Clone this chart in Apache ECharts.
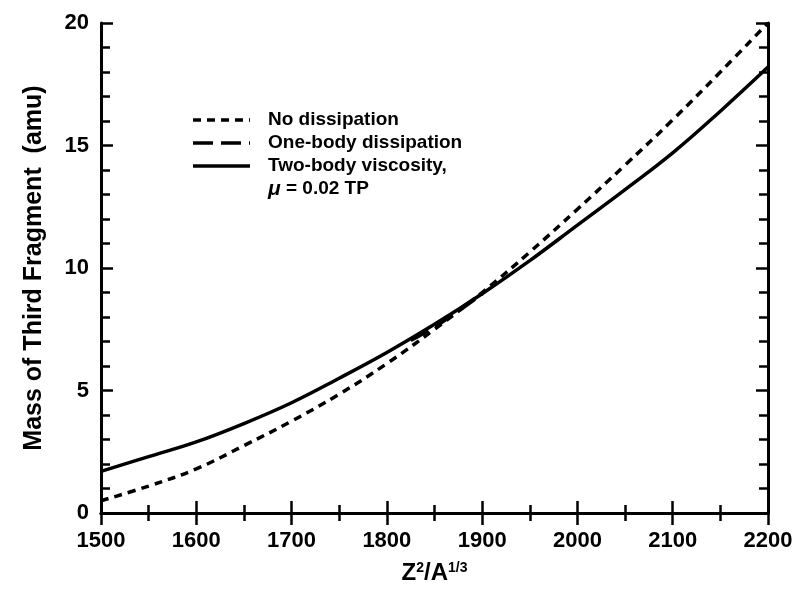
<!DOCTYPE html>
<html>
<head>
<meta charset="utf-8">
<script src="https://cdn.jsdelivr.net/npm/echarts@6/dist/echarts.min.js"></script>
<style>
  html, body { margin: 0; padding: 0; background: #fff; }
  #chart { width: 798px; height: 590px; }
</style>
</head>
<body>
<div id="chart"></div>
<script>
// Z^2/A^(1/3) values
var xValues = [1500, 1550, 1600, 1650, 1700, 1750, 1800, 1850, 1900, 1950, 2000, 2050, 2100, 2150, 2200];
// mass of third fragment (amu)
var noDissipation = [0.5, 1.1, 1.8, 2.75, 3.75, 4.85, 6.1, 7.5, 9.0, 10.65, 12.4, 14.2, 16.05, 18.0, 20.0];
var twoBody = [1.7, 2.3, 2.9, 3.65, 4.5, 5.5, 6.55, 7.7, 8.95, 10.3, 11.75, 13.2, 14.7, 16.4, 18.2];
var oneBodyX = [1825, 1850, 1875, 1900];
var oneBody = [7.05, 7.6, 8.25, 8.95];
var legendNames = ["No dissipation", "One-body dissipation", "Two-body viscosity,", "{i|\u03bc} = 0.02 TP"];

var font = "'Liberation Sans Narrow', 'Liberation Sans', Arial, sans-serif";

function pairs(xs, ys) {
  var out = [];
  for (var i = 0; i < xs.length; i++) out.push([xs[i], ys[i]]);
  return out;
}

var chart = echarts.init(document.getElementById("chart"));

var tickStyle = { color: "#000", width: 2.5 };
var dashes = [[8, 6], [20, 8], null];

// hand drawn legend (line samples + labels)
var legendGraphics = [];
for (var i = 0; i < 4; i++) {
  var y = 120 + i * 23;
  if (i < 3) {
    legendGraphics.push({
      type: "line",
      shape: { x1: 193, y1: y, x2: 250, y2: y },
      style: { stroke: "#000", lineWidth: 3.5, lineDash: dashes[i] }
    });
  }
  legendGraphics.push({
    type: "text",
    x: 268,
    y: y,
    style: {
      text: legendNames[i],
      fontFamily: font,
      fontWeight: "bold",
      fontSize: 19,
      fill: "#000",
      verticalAlign: "middle",
      rich: { i: { fontFamily: font, fontWeight: "bold", fontStyle: "italic", fontSize: 21, fill: "#000" } }
    }
  });
}

chart.setOption({
  backgroundColor: "#fff",
  animation: false,
  grid: { left: 101, right: 30, top: 23, bottom: 73 },
  graphic: legendGraphics,
  xAxis: [{
    type: "value",
    min: 1500,
    max: 2200,
    interval: 100,
    name: "{a|Z}{s|2}{a|/A}{s|1/3}",
    nameLocation: "middle",
    nameGap: 48,
    nameTextStyle: {
      rich: {
        a: { fontFamily: font, fontWeight: "bold", fontSize: 24, color: "#000" },
        s: { fontFamily: font, fontWeight: "bold", fontSize: 14, color: "#000", verticalAlign: "top", padding: [0, 0, 10, 0] }
      }
    },
    axisLine: { lineStyle: { color: "#000", width: 3 } },
    axisTick: { inside: true, length: 12, lineStyle: tickStyle },
    minorTick: { show: true, splitNumber: 2, length: 8, lineStyle: tickStyle },
    splitLine: { show: false },
    axisLabel: {
      fontFamily: font, fontWeight: "bold", fontSize: 22, color: "#000", margin: 17,
      formatter: function (v) { return String(v); }
    }
  }, {
    type: "value",
    position: "top",
    min: 1500,
    max: 2200,
    interval: 100,
    axisLine: { show: true, lineStyle: { color: "#000", width: 3 } },
    axisTick: { inside: true, length: 12, lineStyle: tickStyle },
    minorTick: { show: true, splitNumber: 2, length: 8, lineStyle: tickStyle },
    splitLine: { show: false },
    axisLabel: { show: false }
  }],
  yAxis: [{
    type: "value",
    min: 0,
    max: 20,
    interval: 5,
    name: "Mass of Third Fragment  (amu)",
    nameLocation: "middle",
    nameGap: 54,
    nameTextStyle: { fontFamily: font, fontWeight: "bold", fontSize: 25, color: "#000" },
    axisLine: { show: true, lineStyle: { color: "#000", width: 3 } },
    axisTick: { inside: true, length: 12, lineStyle: tickStyle },
    minorTick: { show: true, splitNumber: 5, length: 9, lineStyle: tickStyle },
    splitLine: { show: false },
    axisLabel: { fontFamily: font, fontWeight: "bold", fontSize: 22, color: "#000", margin: 12 }
  }, {
    type: "value",
    position: "right",
    min: 0,
    max: 20,
    interval: 5,
    axisLine: { show: true, lineStyle: { color: "#000", width: 3 } },
    axisTick: { inside: true, length: 12, lineStyle: tickStyle },
    minorTick: { show: true, splitNumber: 5, length: 9, lineStyle: tickStyle },
    splitLine: { show: false },
    axisLabel: { show: false }
  }],
  series: [{
    name: legendNames[0],
    type: "line",
    smooth: 0.4,
    showSymbol: false,
    symbol: "none",
    data: pairs(xValues, noDissipation),
    lineStyle: { color: "#000", width: 3.5, type: dashes[0] }
  }, {
    name: legendNames[1],
    type: "line",
    smooth: 0.4,
    showSymbol: false,
    symbol: "none",
    data: pairs(oneBodyX, oneBody),
    lineStyle: { color: "#000", width: 4, type: dashes[1] }
  }, {
    name: legendNames[2],
    type: "line",
    smooth: 0.4,
    showSymbol: false,
    symbol: "none",
    data: pairs(xValues, twoBody),
    lineStyle: { color: "#000", width: 3.5 }
  }]
});
</script>
</body>
</html>
